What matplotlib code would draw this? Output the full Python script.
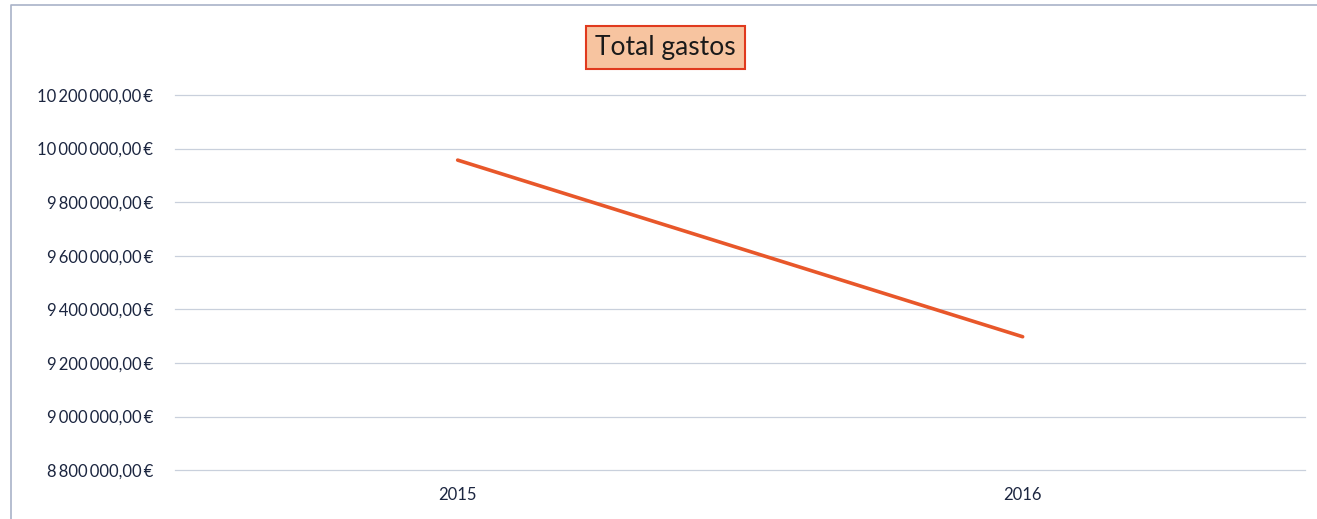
import matplotlib.pyplot as plt
from matplotlib.lines import Line2D
from matplotlib.ticker import FuncFormatter

# Datos del gráfico
years = ['2015', '2016']
total_gastos = [9957000, 9298000]
y_ticks = [8800000, 9000000, 9200000, 9400000, 9600000, 9800000, 10000000, 10200000]

plt.rcParams['font.family'] = ['Lato', 'DejaVu Sans']

fig = plt.figure(figsize=(13.17, 5.19), dpi=100)
ax = fig.add_axes([0.133, 0.094, 0.858, 0.723])

# borde del área del gráfico (izquierda y arriba)
fig.add_artist(Line2D([0.008, 0.008, 1.0], [0.0, 0.99, 0.99], transform=fig.transFigure,
                      color='#a9b3c8', linewidth=1.2))

x = [0.5, 1.5]
ax.plot(x, total_gastos, color='#e8572a', linewidth=2.6, solid_capstyle='round')

ax.set_xlim(0, 2)
ax.set_ylim(y_ticks[0], y_ticks[-1])
ax.set_yticks(y_ticks)
ax.set_xticks(x)
ax.set_xticklabels(years)


def euros(v, pos):
    s = f'{v:,.2f}'.replace(',', '\u2009').replace('.', ',')
    return s + '\u2009€'


ax.yaxis.set_major_formatter(FuncFormatter(euros))
ax.grid(axis='y', color='#c9d0dc', linewidth=0.9)
for g in ax.get_ygridlines():
    g.set_clip_on(False)
ax.set_axisbelow(True)
for s in ax.spines.values():
    s.set_visible(False)
ax.tick_params(axis='both', length=0, colors='#1c2640', labelsize=12)
ax.tick_params(axis='y', pad=16)
ax.tick_params(axis='x', pad=12)

fig.text(0.505, 0.908, 'Total gastos', ha='center', va='center', fontsize=19, color='#1a1a1a',
         bbox=dict(boxstyle='square,pad=0.35', facecolor='#f7c4a0', edgecolor='#e03a1e', linewidth=1.5))

fig.savefig('out.png', dpi=100)
